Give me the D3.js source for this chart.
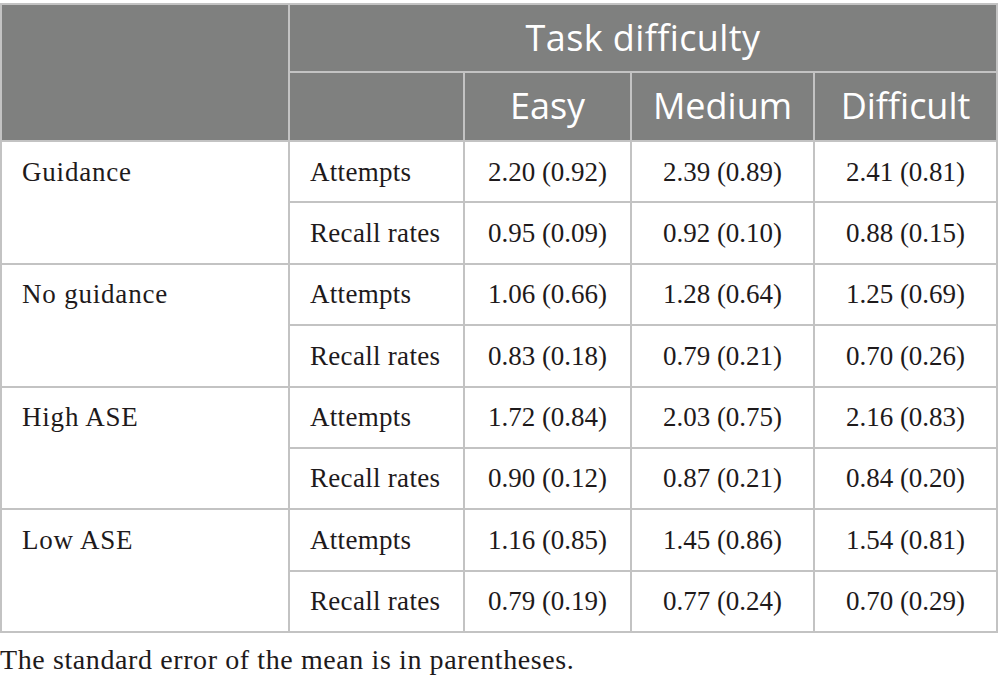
<!DOCTYPE html>
<html>
<head>
<meta charset="utf-8">
<script src="https://cdn.jsdelivr.net/npm/d3@7"></script>
<style>
  body { margin: 0; background: #fff; }
  svg { display: block; }
</style>
</head>
<body>
<div id="chart"></div>
<script>
// table content
const groups = ["Guidance", "No guidance", "High ASE", "Low ASE"];
const measures = ["Attempts", "Recall rates"];
const levels = ["Easy", "Medium", "Difficult"];
const spanTitle = "Task difficulty";
const note = "The standard error of the mean is in parentheses.";

// one row per group x measure, one cell per difficulty level
const cellValues = [
  ["2.20 (0.92)", "2.39 (0.89)", "2.41 (0.81)"],
  ["0.95 (0.09)", "0.92 (0.10)", "0.88 (0.15)"],
  ["1.06 (0.66)", "1.28 (0.64)", "1.25 (0.69)"],
  ["0.83 (0.18)", "0.79 (0.21)", "0.70 (0.26)"],
  ["1.72 (0.84)", "2.03 (0.75)", "2.16 (0.83)"],
  ["0.90 (0.12)", "0.87 (0.21)", "0.84 (0.20)"],
  ["1.16 (0.85)", "1.45 (0.86)", "1.54 (0.81)"],
  ["0.79 (0.19)", "0.77 (0.24)", "0.70 (0.29)"]
];

const W = 998, H = 684;
const tLeft = 1, tRight = 997, tTop = 4;
const headH = [68, 69];
const bodyTop = tTop + headH[0] + headH[1];
const bodyBottom = 632;

const colEdges = [tLeft, 289, 464, 631, 814, tRight];
const headFill = "#7f807f";
const lineCol = "#c3c3c3";
const serif = "'Liberation Serif', 'Times New Roman', serif";
const sans = "'Open Sans', 'Noto Sans', sans-serif";

const rowIds = d3.range(cellValues.length);
const y = d3.scaleBand().domain(rowIds).range([bodyTop, bodyBottom]);

const svg = d3.select("#chart").append("svg")
    .attr("width", W)
    .attr("height", H);

// header background
svg.append("rect")
    .attr("x", tLeft).attr("y", tTop)
    .attr("width", tRight - tLeft).attr("height", headH[0] + headH[1])
    .attr("fill", headFill);

const lines = svg.append("g")
    .attr("stroke", lineCol)
    .attr("stroke-width", 2)
    .attr("shape-rendering", "crispEdges");

// outer frame
lines.append("rect")
    .attr("x", tLeft).attr("y", tTop)
    .attr("width", tRight - tLeft).attr("height", bodyBottom - tTop)
    .attr("fill", "none");

// header rules
lines.append("line")
    .attr("x1", colEdges[1]).attr("x2", tRight)
    .attr("y1", tTop + headH[0]).attr("y2", tTop + headH[0]);
lines.append("line")
    .attr("x1", colEdges[1]).attr("x2", colEdges[1])
    .attr("y1", tTop).attr("y2", bodyBottom);
colEdges.slice(2, 5).forEach(x => {
  lines.append("line")
      .attr("x1", x).attr("x2", x)
      .attr("y1", tTop + headH[0]).attr("y2", bodyBottom);
});

// body horizontal rules
rowIds.forEach(i => {
  const x1 = i % 2 === 0 ? tLeft : colEdges[1];
  lines.append("line")
      .attr("x1", x1).attr("x2", tRight)
      .attr("y1", y(i)).attr("y2", y(i));
});

// header texts
svg.append("text")
    .attr("x", (colEdges[1] + tRight) / 2)
    .attr("y", tTop + headH[0] / 2)
    .attr("dy", "0.35em")
    .attr("text-anchor", "middle")
    .attr("fill", "#fff")
    .attr("font-family", sans)
    .attr("font-size", 36)
    .attr("letter-spacing", 0.4)
    .text(spanTitle);

svg.selectAll("text.level")
  .data(levels)
  .join("text")
    .attr("class", "level")
    .attr("x", (d, i) => (colEdges[i + 2] + colEdges[i + 3]) / 2)
    .attr("y", tTop + headH[0] + headH[1] / 2)
    .attr("dy", "0.35em")
    .attr("text-anchor", "middle")
    .attr("fill", "#fff")
    .attr("font-family", sans)
    .attr("font-size", 36)
    .text(d => d);

const body = svg.append("g")
    .attr("font-family", serif)
    .attr("font-size", 27)
    .attr("fill", "#1e1a1b");

// group names
body.selectAll("text.group")
  .data(groups)
  .join("text")
    .attr("class", "group")
    .attr("x", 22)
    .attr("y", (d, i) => y(i * 2) + y.bandwidth() / 2)
    .attr("dy", "0.33em")
    .attr("letter-spacing", 0.8)
    .text(d => d);

// measure names
body.selectAll("text.measure")
  .data(rowIds)
  .join("text")
    .attr("class", "measure")
    .attr("x", colEdges[1] + 21)
    .attr("y", i => y(i) + y.bandwidth() / 2)
    .attr("dy", "0.33em")
    .attr("letter-spacing", 0.3)
    .text(i => measures[i % 2]);

// values
body.selectAll("g.row")
  .data(cellValues)
  .join("g")
    .attr("class", "row")
    .attr("transform", (d, i) => `translate(0,${y(i) + y.bandwidth() / 2})`)
  .selectAll("text")
  .data(d => d)
  .join("text")
    .attr("x", (d, j) => (colEdges[j + 2] + colEdges[j + 3]) / 2)
    .attr("dy", "0.33em")
    .attr("text-anchor", "middle")
    .text(d => d);

// footnote
svg.append("text")
    .attr("x", 0)
    .attr("y", 669)
    .attr("font-family", serif)
    .attr("font-size", 28)
    .attr("letter-spacing", 0.6)
    .attr("fill", "#1e1a1b")
    .text(note);
</script>
</body>
</html>
